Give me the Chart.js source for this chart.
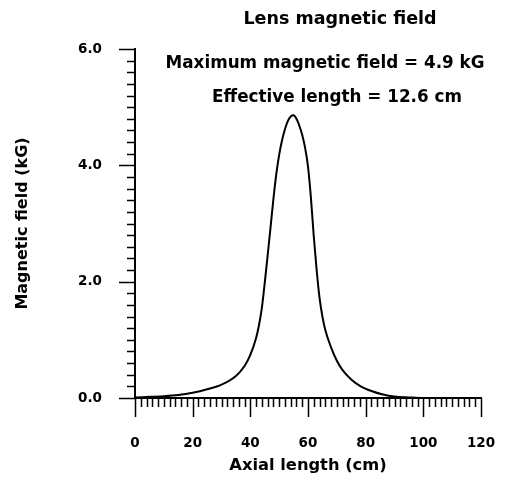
<!DOCTYPE html>
<html>
<head>
<meta charset="utf-8">
<script src="https://cdn.jsdelivr.net/npm/chart.js@4/dist/chart.umd.min.js"></script>
<style>
  html, body { margin: 0; padding: 0; background: #fff; }
</style>
</head>
<body>
<canvas id="myChart" width="506" height="486"></canvas>
<script>
// axial position (cm) and field (kG)
const axialLength = [0, 5, 10, 15, 20, 25, 30, 35, 38, 40, 42, 43, 44, 45, 46, 47, 48, 49, 50, 51, 52, 53, 54, 55, 56, 57, 58, 59, 60, 61, 62, 63, 64, 65, 66, 68, 70, 72, 75, 78, 82, 86, 90, 95, 100, 104];
const fieldKG = [0.01, 0.02, 0.03, 0.05, 0.09, 0.15, 0.23, 0.38, 0.55, 0.74, 1.03, 1.25, 1.55, 1.98, 2.45, 2.93, 3.42, 3.85, 4.18, 4.43, 4.62, 4.76, 4.84, 4.86, 4.8, 4.68, 4.52, 4.3, 3.98, 3.45, 2.78, 2.2, 1.72, 1.4, 1.17, 0.87, 0.64, 0.48, 0.32, 0.21, 0.12, 0.06, 0.025, 0.01, 0.0, 0.0];

const xTicks = [0, 20, 40, 60, 80, 100, 120];
const yTicks = [0, 2, 4, 6];

const titleText = 'Lens magnetic field';
const noteLines = ['Maximum magnetic field = 4.9 kG', 'Effective length = 12.6 cm'];

const FONT = '"DejaVu Sans", sans-serif';

// small tick marks + header text
const extras = {
    id: 'extras',
    afterDraw(chart) {
        const c = chart.ctx;
        const xs = chart.scales.x, ys = chart.scales.y;
        c.save();
        c.strokeStyle = '#000';
        c.lineWidth = 1.5;
        c.beginPath();
        for (let v = 0; v <= 120; v += 2) {
            const px = Math.round(xs.getPixelForValue(v)) + 0.5;
            const len = v % 20 === 0 ? 19 : 9;
            c.moveTo(px, xs.top);
            c.lineTo(px, xs.top + len);
        }
        for (let i = 0; i <= 30; i++) {
            const py = Math.round(ys.getPixelForValue(i * 0.2)) + 0.5;
            const len = i % 10 === 0 ? 16 : 8;
            c.moveTo(ys.right, py);
            c.lineTo(ys.right - len, py);
        }
        c.stroke();

        c.fillStyle = '#000';
        c.textAlign = 'center';
        c.textBaseline = 'alphabetic';
        c.font = 'bold 17.5px ' + FONT;
        c.fillText(titleText, 340, 24);
        c.font = 'bold 16.8px ' + FONT;
        c.fillText(noteLines[0], 325, 68);
        c.fillText(noteLines[1], 337, 102);
        c.restore();
    }
};

const ctx = document.getElementById('myChart');
const fieldChart = new Chart(ctx, {
    type: 'line',
    data: {
        datasets: [{
            label: 'Field',
            data: axialLength.map((x, i) => ({ x: x, y: fieldKG[i] })),
            borderColor: '#000',
            borderWidth: 2,
            pointRadius: 0,
            fill: false,
            cubicInterpolationMode: 'monotone'
        }]
    },
    options: {
        responsive: false,
        animation: false,
        layout: { padding: { top: 49, right: 25, left: 0, bottom: 0 } },
        plugins: {
            legend: { display: false },
            tooltip: { enabled: false }
        },
        scales: {
            x: {
                type: 'linear',
                min: 0,
                max: 120,
                afterFit: s => { s.height = 88; },
                afterBuildTicks: s => { s.ticks = xTicks.map(v => ({ value: v })); },
                // ticks are drawn by the plugin; transparent tick length only pushes labels down
                grid: { display: true, drawOnChartArea: false, drawTicks: true, tickLength: 37, tickColor: 'rgba(0,0,0,0)' },
                border: { display: true, color: '#000', width: 2 },
                ticks: {
                    padding: 0,
                    color: '#000',
                    font: { family: FONT, size: 13.5, weight: 'bold' }
                },
                title: {
                    display: true,
                    text: 'Axial length (cm)',
                    color: '#000',
                    padding: { top: 0, bottom: 10 },
                    font: { family: FONT, size: 16.3, weight: 'bold' }
                }
            },
            y: {
                min: 0,
                max: 6,
                afterFit: s => { s.width = 135; },
                afterBuildTicks: s => { s.ticks = yTicks.map(v => ({ value: v })); },
                grid: { display: false, drawTicks: false },
                border: { display: true, color: '#000', width: 2 },
                ticks: {
                    padding: 33,
                    color: '#000',
                    font: { family: FONT, size: 13.5, weight: 'bold' },
                    callback: v => v.toFixed(1)
                },
                title: {
                    display: true,
                    text: 'Magnetic field (kG)',
                    color: '#000',
                    padding: { top: 13, bottom: 0 },
                    font: { family: FONT, size: 16, weight: 'bold' }
                }
            }
        }
    },
    plugins: [extras]
});
</script>
</body>
</html>
